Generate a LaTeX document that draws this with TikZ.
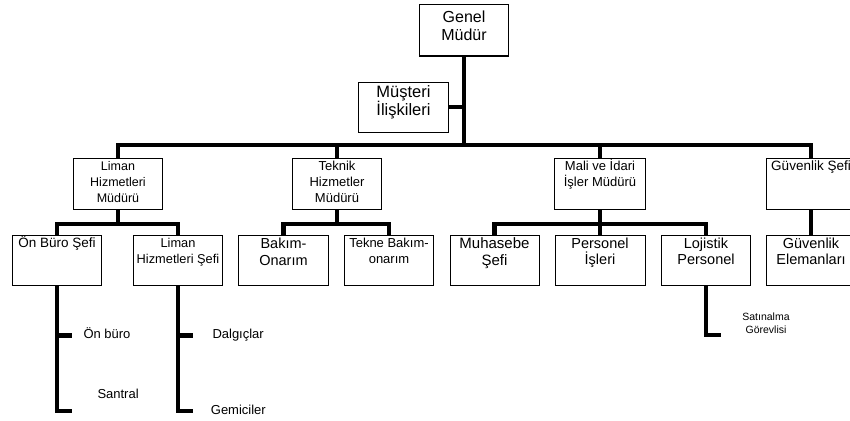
\documentclass[tikz,border=0pt]{standalone}
\usepackage{fontspec}
\setmainfont{Liberation Sans}
\usetikzlibrary{positioning}
\newcommand{\fsz}[2]{\fontsize{#1}{#2}\selectfont}
\tikzset{
  box/.style={draw=black,line width=1pt,minimum width=89pt,minimum height=51pt,inner sep=0pt,anchor=north},
  lowbox/.style={box,minimum height=50pt},
  txt/.style={align=center,inner sep=0pt,text=black},
  conn/.style={line width=4.5pt},
  sub/.style={inner sep=0pt,anchor=base west,font=\fsz{13}{15}}
}
\begin{document}
\begin{tikzpicture}[x=1pt,y=-1pt]
\useasboundingbox[fill=white] (0,0) rectangle (850,420);
\clip (0,0) rectangle (850,420);
\coordinate (bus) at (0,145);
\coordinate (bus2) at (0,224);
% top
\node[box] (gm) at (464,4.5) {};
\node[txt,font=\fsz{16}{18},below=6pt of gm.north] (gmt) {Genel\\Müdür};
\node[lowbox,minimum width=90pt] (mi) at (403.5,81.5) {};
\node[txt,font=\fsz{16.5}{18.3},below=4pt of mi.north] (mit) {Müşteri\\İlişkileri};
% managers
\node[box] (lhm) at (118,157.5) {};
\node[txt,font=\fsz{12.5}{15.8},below=4pt of lhm.north] (lhmt) {Liman\\Hizmetleri\\Müdürü};
\node[box] (tek) at (337,157.5) {};
\node[txt,font=\fsz{13}{15.8},below=3.8pt of tek.north] (tekt) {Teknik\\Hizmetler\\Müdürü};
\node[box,minimum width=91pt] (mali) at (600,157.5) {};
\node[txt,font=\fsz{13}{16},below=1.3pt of mali.north] (malit) {Mali ve İdari\\İşler Müdürü};
\node[box] (gs) at (811,157.5) {};
\node[txt,font=\fsz{13.5}{16},below=3pt of gs.north] (gst) {Güvenlik Şefi};
% chiefs
\node[lowbox] (obs) at (57,234.5) {};
\node[txt,font=\fsz{13.5}{16},below=1.3pt of obs.north] (obst) {Ön Büro Şefi};
\node[lowbox] (lhs) at (178,234.5) {};
\node[txt,font=\fsz{12.8}{16},below=3.6pt of lhs.north] (lhst) {Liman\\Hizmetleri Şefi};
\node[lowbox,minimum width=90pt] (bak) at (283.5,234.5) {};
\node[txt,font=\fsz{14.5}{16.7},below=3.3pt of bak.north] (bakt) {Bakım-\\Onarım};
\node[lowbox] (tbo) at (389,234.5) {};
\node[txt,font=\fsz{13}{16.7},below=3pt of tbo.north] (tbot) {Tekne Bakım-\\onarım};
\node[lowbox] (muh) at (494.5,234.5) {};
\node[txt,font=\fsz{15}{16.7},below=2.8pt of muh.north] (muht) {Muhasebe\\Şefi};
\node[lowbox,minimum width=90pt] (per) at (600,234.5) {};
\node[txt,font=\fsz{14.5}{16.7},below=2.8pt of per.north] (pert) {Personel\\İşleri};
\node[lowbox] (loj) at (706,234.5) {};
\node[txt,font=\fsz{14.5}{16.7},below=2.8pt of loj.north] (lojt) {Lojistik\\Personel};
\node[lowbox] (ge) at (811,234.5) {};
\node[txt,font=\fsz{14.5}{16.7},below=2.8pt of ge.north] (get) {Güvenlik\\Elemanları};
% connectors
\draw[conn] (gm.south) -- (gm.south |- bus);
\draw[conn] (mi.east) -- (mi.east -| gm.south);
\draw[conn] (lhm.north) -- (lhm.north |- bus) -| (gs.north);
\draw[conn] (tek.north) -- (tek.north |- bus);
\draw[conn] (mali.north) -- (mali.north |- bus);
\draw[conn] (lhm.south) -- (lhm.south |- bus2);
\draw[conn] (obs.north) -- (obs.north |- bus2) -| (lhs.north);
\draw[conn] (tek.south) -- (tek.south |- bus2);
\draw[conn] (bak.north) -- (bak.north |- bus2) -| (tbo.north);
\draw[conn] (mali.south) -- (mali.south |- bus2);
\draw[conn] (muh.north) -- (muh.north |- bus2) -| (loj.north);
\draw[conn] (per.north) -- (per.north |- bus2);
\draw[conn] (gs.south) -- (ge.north);
% staff
\coordinate (ob1) at (72,335.5);
\coordinate (ob2) at (72,411);
\coordinate (dl1) at (193,335.5);
\coordinate (dl2) at (193,411);
\coordinate (sg) at (721,335);
\draw[conn] (obs.south) |- (ob2);
\draw[conn] (obs.south |- ob1) -- (ob1);
\draw[conn] (lhs.south) |- (dl2);
\draw[conn] (lhs.south |- dl1) -- (dl1);
\draw[conn] (loj.south) |- (sg);
\node[sub] (onb) at (83.3,338.3) {Ön büro};
\node[sub] (san) at (97.3,398.3) {Santral};
\node[sub] (dal) at (212.3,338.3) {Dalgıçlar};
\node[sub] (gem) at (210.7,414) {Gemiciler};
\node[txt,font=\fsz{10.5}{13.3},anchor=north] (sat) at (766,312.5) {Satınalma\\Görevlisi};
\end{tikzpicture}
\end{document}
